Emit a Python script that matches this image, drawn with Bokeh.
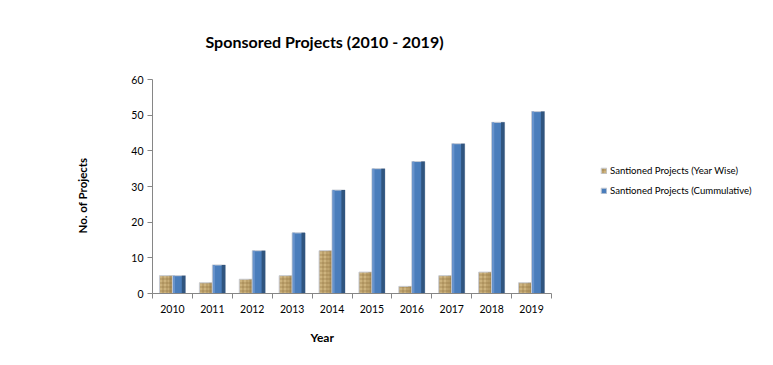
from bokeh.plotting import figure
from bokeh.models import (Range1d, FixedTicker, LinearAxis, Legend, LegendItem, Title,
                          ColumnDataSource)
from bokeh.embed import file_html
from bokeh.resources import INLINE
from bokeh.transform import dodge

years = ["2010", "2011", "2012", "2013", "2014", "2015", "2016", "2017", "2018", "2019"]
year_wise = [5, 3, 4, 5, 12, 6, 2, 5, 6, 3]
cumulative = [5, 8, 12, 17, 29, 35, 37, 42, 48, 51]
y_ticks = [0, 10, 20, 30, 40, 50, 60]

n = len(years)
centers = [i + 0.5 for i in range(n)]
s = ColumnDataSource(dict(x=centers, yw=year_wise, cum=cumulative))

FONT = "Lato"
W, H = 757, 349
LEFT, TOP, FH = 152, 79, 214
CAT_PX = 399
FRAME_W = W - LEFT
p = figure(frame_width=FRAME_W, frame_height=FH, output_backend="svg", toolbar_location=None,
           x_range=Range1d(0, n * FRAME_W / CAT_PX), y_range=Range1d(0, 60),
           min_border_left=LEFT, min_border_right=0, min_border_top=TOP,
           min_border_bottom=H - TOP - FH, x_axis_type=None, y_axis_type=None)
p.xgrid.visible = False
p.ygrid.visible = False
p.outline_line_color = None
p.background_fill_color = "white"
p.border_fill_color = "white"

p.title.text = "Sponsored Projects (2010 - 2019)"
p.title.text_font = FONT
p.title.text_font_size = "16px"
p.title.text_font_style = "bold"
p.title.text_color = "black"
p.title.align = "left"
p.title.offset = 53
p.title.standoff = 57

bw = 0.325
r1 = p.vbar(x=dodge("x", -bw / 2, range=p.x_range), top="yw", width=bw, source=s,
            fill_color="#CDB37E", line_color="#C8CCD4", line_width=1,
            hatch_pattern="+", hatch_color="#8C6F3C", hatch_scale=4, hatch_alpha=0.55)
p.vbar(x=dodge("x", -bw / 2 + bw * 0.36, range=p.x_range), top="yw", width=bw * 0.28, source=s,
       fill_color="#8C6F3C", fill_alpha=0.35, line_color=None)
r2 = p.vbar(x=dodge("x", bw / 2, range=p.x_range), top="cum", width=bw, source=s,
            fill_color="#4A7DBB", line_color="#C8CCD4", line_width=1)
p.vbar(x=dodge("x", bw / 2 + bw * 0.36, range=p.x_range), top="cum", width=bw * 0.28, source=s,
       fill_color="#30557F", line_color=None)
p.vbar(x=dodge("x", bw / 2 - bw * 0.38, range=p.x_range), top="cum", width=bw * 0.16, source=s,
       fill_color="#6893CC", line_color=None)

ya = LinearAxis(ticker=FixedTicker(ticks=y_ticks), axis_line_color="#868686",
                major_tick_line_color="#868686", major_tick_out=5, major_tick_in=0,
                minor_tick_line_color=None, major_label_text_font=FONT,
                major_label_text_font_size="10.5px", major_label_text_color="black",
                major_label_standoff=4)
p.add_layout(ya, "left")
p.add_layout(Title(text="No. of Projects", align="left", offset=60, text_font=FONT,
                   text_font_size="11.5px", text_font_style="bold", text_color="black",
                   standoff=80), "left")

xa = LinearAxis(ticker=FixedTicker(ticks=list(range(n + 1))), bounds=(0, n),
                axis_line_color="#868686",
                major_tick_line_color="#868686", major_tick_out=5, major_tick_in=0,
                minor_tick_line_color=None,
                major_label_overrides={i: "" for i in range(n + 1)})
p.add_layout(xa, "below")
xl = LinearAxis(ticker=FixedTicker(ticks=centers), axis_line_color=None,
                major_tick_line_color=None, minor_tick_line_color=None,
                major_label_overrides={c: y for c, y in zip(centers, years)},
                major_label_text_font=FONT, major_label_text_font_size="10.5px",
                major_label_text_color="black", major_label_standoff=0)
p.add_layout(xl, "below")
p.add_layout(Title(text="Year", align="left", offset=158, text_font=FONT,
                   text_font_size="12px", text_font_style="bold", text_color="black",
                   standoff=25), "below")

legend = Legend(items=[LegendItem(label="Santioned Projects (Year Wise)", renderers=[r1]),
                       LegendItem(label="Santioned Projects (Cummulative)", renderers=[r2])],
                location=(448, 97), label_text_font=FONT, label_text_font_size="9.6px",
                label_text_color="black",
                glyph_width=7, glyph_height=7, spacing=9, label_standoff=3,
                border_line_color=None, background_fill_alpha=0, padding=0,
                margin=0)
p.add_layout(legend, "center")

open("out.html", "w").write(file_html(p, INLINE))
